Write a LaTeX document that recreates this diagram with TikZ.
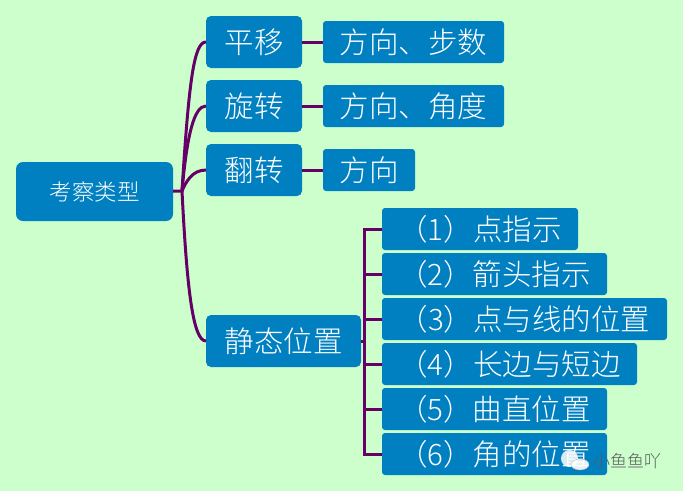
\documentclass[tikz,border=0pt]{standalone}
\usepackage{fontspec}
\setmainfont{Noto Sans CJK SC Light}
\usepackage{xcolor}
\usetikzlibrary{positioning}
\definecolor{pagegreen}{HTML}{CCFFCC}
\definecolor{boxblue}{HTML}{0080C0}
\definecolor{linkpurple}{HTML}{660066}
\tikzstyle{rootbox} = [rectangle, rounded corners=7pt, minimum width=157pt, minimum height=59pt, inner sep=0pt, outer sep=0pt, text centered, fill=boxblue, text=white, font=\fontsize{22.5}{24}\selectfont]
\tikzstyle{typebox} = [rectangle, rounded corners=5pt, minimum height=52pt, inner sep=0pt, outer sep=0pt, text centered, fill=boxblue, text=white, font=\fontsize{29.5}{32}\selectfont]
\tikzstyle{leafbox} = [rectangle, rounded corners=3pt, minimum height=42pt, inner sep=0pt, outer sep=0pt, text centered, fill=boxblue, text=white, font=\fontsize{29.5}{32}\selectfont]
\tikzstyle{link} = [line width=3pt, linkpurple]
\begin{document}
\begin{tikzpicture}[x=1pt, y=-1pt]
            \useasboundingbox[fill=pagegreen] (0,0) rectangle (683,491);
            \node[rootbox] (root) at (94.5,191.5) {考察类型};
            \node[typebox, minimum width=96pt] (shift) at (254,42) {平移};
            \node[typebox, minimum width=96pt, below=12pt of shift] (rotate) {旋转};
            \node[typebox, minimum width=96pt, below=12pt of rotate] (flip) {翻转};
            \node[typebox, minimum width=155pt] (static) at (283.5,341) {静态位置};
            \node[leafbox, minimum width=181pt, right=21pt of shift] (shiftinfo) {方向、步数};
            \node[leafbox, minimum width=181pt, right=21pt of rotate] (rotateinfo) {方向、角度};
            \node[leafbox, minimum width=92pt, right=21pt of flip] (flipinfo) {方向};
            \node[leafbox, minimum width=196pt, anchor=west] (pos1) at (382,229) {（1）点指示};
            \node[leafbox, minimum width=225pt, below=3pt of pos1.south west, anchor=north west] (pos2) {（2）箭头指示};
            \node[leafbox, minimum width=285pt, below=3pt of pos2.south west, anchor=north west] (pos3) {（3）点与线的位置};
            \node[leafbox, minimum width=255pt, below=3pt of pos3.south west, anchor=north west] (pos4) {（4）长边与短边};
            \node[leafbox, minimum width=225pt, below=3pt of pos4.south west, anchor=north west] (pos5) {（5）曲直位置};
            \node[leafbox, minimum width=225pt, below=3pt of pos5.south west, anchor=north west] (pos6) {（6）角的位置};
            \coordinate (rootjoin) at (182,191);
            \coordinate (posjoin) at (364,341);

            \draw[link] (root) -- (rootjoin);
            \draw[link] (rootjoin) .. controls (189,80) and (194,42) .. (shift.west);
            \draw[link] (rootjoin) .. controls (187,135) and (194,106) .. (rotate.west);
            \draw[link] (rootjoin) .. controls (186,182) and (192,170) .. (flip.west);
            \draw[link] (rootjoin) .. controls (187,290) and (193,341) .. (static.west);
            \draw[link] (shift) -- (shiftinfo);
            \draw[link] (rotate) -- (rotateinfo);
            \draw[link] (flip) -- (flipinfo);
            \draw[link] (static) -- (posjoin);
            \draw[link] (pos1.west) -| (posjoin);
            \draw[link] (pos6.west) -| (posjoin);
            \draw[link] (pos2.west) -- (pos2.west -| posjoin);
            \draw[link] (pos3.west) -- (pos3.west -| posjoin);
            \draw[link] (pos4.west) -- (pos4.west -| posjoin);
            \draw[link] (pos5.west) -- (pos5.west -| posjoin);

            % watermark
            \fill[white, opacity=.85] (569.5,458.5) ellipse (8.5pt and 8.5pt);
            \fill[white, opacity=.9, draw=gray!60] (580,464.5) ellipse (9pt and 5.5pt);
            \node[text=gray!70!black, font=\fontsize{17}{19}\selectfont, inner sep=0pt] (mark) at (627,461) {小鱼鱼吖};
        \end{tikzpicture}
\end{document}
